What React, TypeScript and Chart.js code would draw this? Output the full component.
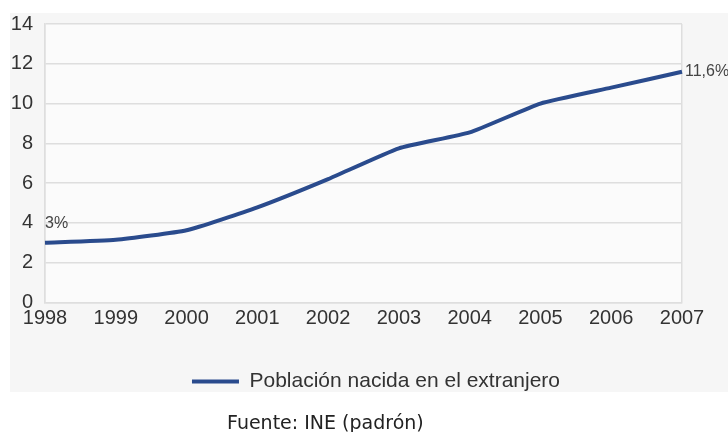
import React, { useEffect, useRef } from "react";
import { Chart, registerables } from "chart.js";

Chart.register(...registerables);

const years: string[] = ["1998", "1999", "2000", "2001", "2002", "2003", "2004", "2005", "2006", "2007"];
const foreignBornPct: number[] = [3.0, 3.15, 3.63, 4.78, 6.2, 7.75, 8.55, 10.0, 10.8, 11.6];
const pointLabels: string[] = ["3%", "", "", "", "", "", "", "", "", "11,6%"];
const seriesName = "Población nacida en el extranjero";
const sourceText = "Fuente: INE (padrón)";

const LINE_COLOR = "#2a4b8d";
const GRID_COLOR = "#dedede";
const FONT = "'Liberation Sans', Arial, sans-serif";

export default function App() {
  const canvasRef = useRef<HTMLCanvasElement | null>(null);

  useEffect(() => {
    const canvas = canvasRef.current;
    if (!canvas) return;

    const bgPlugin = {
      id: "bgBand",
      beforeDraw(chart: any) {
        const { ctx, chartArea } = chart;
        ctx.save();
        ctx.fillStyle = "#ffffff";
        ctx.fillRect(0, 0, chart.width, chart.height);
        ctx.fillStyle = "#f6f6f6";
        ctx.fillRect(10, 13, chart.width - 10, 379);
        ctx.fillStyle = "#fbfbfb";
        ctx.fillRect(chartArea.left, chartArea.top, chartArea.right - chartArea.left, chartArea.bottom - chartArea.top);
        ctx.restore();
      },
    };

    const legendShift = {
      id: "legendShift",
      afterLayout(chart: any) {
        const lg = chart.legend;
        if (!lg) return;
        const shift = 376 - (lg.left + lg.right) / 2;
        lg.left += shift;
        lg.right += shift;
      },
    };

    const labelPlugin = {
      id: "pointLabels",
      afterDatasetsDraw(chart: any) {
        const { ctx } = chart;
        const meta = chart.getDatasetMeta(0);
        ctx.save();
        ctx.font = `16px ${FONT}`;
        ctx.fillStyle = "#444444";
        const last = pointLabels.length - 1;
        pointLabels.forEach((txt, i) => {
          if (!txt) return;
          const p = meta.data[i];
          if (i === last) {
            ctx.textAlign = "left";
            ctx.textBaseline = "middle";
            ctx.fillText(txt, p.x + 3, p.y);
          } else {
            ctx.textAlign = "left";
            ctx.textBaseline = "alphabetic";
            ctx.fillText(txt, p.x, p.y - 15);
          }
        });
        ctx.restore();
      },
    };

    const chart = new Chart(canvas, {
      type: "line",
      data: {
        labels: years,
        datasets: [
          {
            label: seriesName,
            data: foreignBornPct,
            borderColor: LINE_COLOR,
            backgroundColor: LINE_COLOR,
            borderWidth: 4,
            pointRadius: 0,
            tension: 0.15,
            fill: false,
          },
        ],
      },
      options: {
        responsive: false,
        animation: false,
        layout: { padding: { left: 0, right: 46, top: 24, bottom: 30 } },
        plugins: {
          tooltip: { enabled: false },
          legend: {
            position: "bottom",
            labels: {
              boxWidth: 47,
              boxHeight: 4,
              padding: 10,
              color: "#333333",
              font: { family: FONT, size: 21 },
              generateLabels: (c: any) =>
                (Chart.defaults.plugins.legend.labels.generateLabels as any)(c).map((l: any) => ({
                  ...l,
                  lineWidth: 0,
                  fillStyle: LINE_COLOR,
                  strokeStyle: LINE_COLOR,
                })),
            },
          },
        },
        scales: {
          x: {
            offset: false,
            afterFit: (s: any) => {
              s.height = 58.5;
            },
            grid: {
              drawTicks: false,
              color: (ctx: any) =>
                ctx.index === 0 || ctx.index === years.length - 1 ? GRID_COLOR : "rgba(0,0,0,0)",
              lineWidth: 1.5,
            },
            border: { display: true, color: GRID_COLOR, width: 1.5 },
            ticks: {
              padding: 4,
              color: "#333333",
              font: { family: FONT, size: 20 },
              maxRotation: 0,
              autoSkip: false,
            },
          },
          y: {
            min: 0,
            max: 14,
            afterFit: (s: any) => {
              s.width = 45;
            },
            grid: { drawTicks: false, color: GRID_COLOR, lineWidth: 1.5 },
            border: { display: true, color: GRID_COLOR, width: 1.5 },
            ticks: {
              stepSize: 2,
              padding: 12,
              color: "#333333",
              font: { family: FONT, size: 20 },
            },
          },
        },
      },
      plugins: [bgPlugin, legendShift, labelPlugin],
    });

    return () => chart.destroy();
  }, []);

  return (
    <div style={{ position: "absolute", left: 0, top: 0, width: 728, height: 432, background: "#ffffff", overflow: "hidden" }}>
      <canvas ref={canvasRef} width={728} height={432} style={{ position: "absolute", left: 0, top: 0 }} />
      <div
        style={{
          position: "absolute",
          left: 227,
          top: 413,
          fontFamily: "'DejaVu Sans', Verdana, sans-serif",
          fontSize: 19,
          lineHeight: "19px",
          color: "#222222",
          whiteSpace: "nowrap",
        }}
      >
        {sourceText}
      </div>
    </div>
  );
}
